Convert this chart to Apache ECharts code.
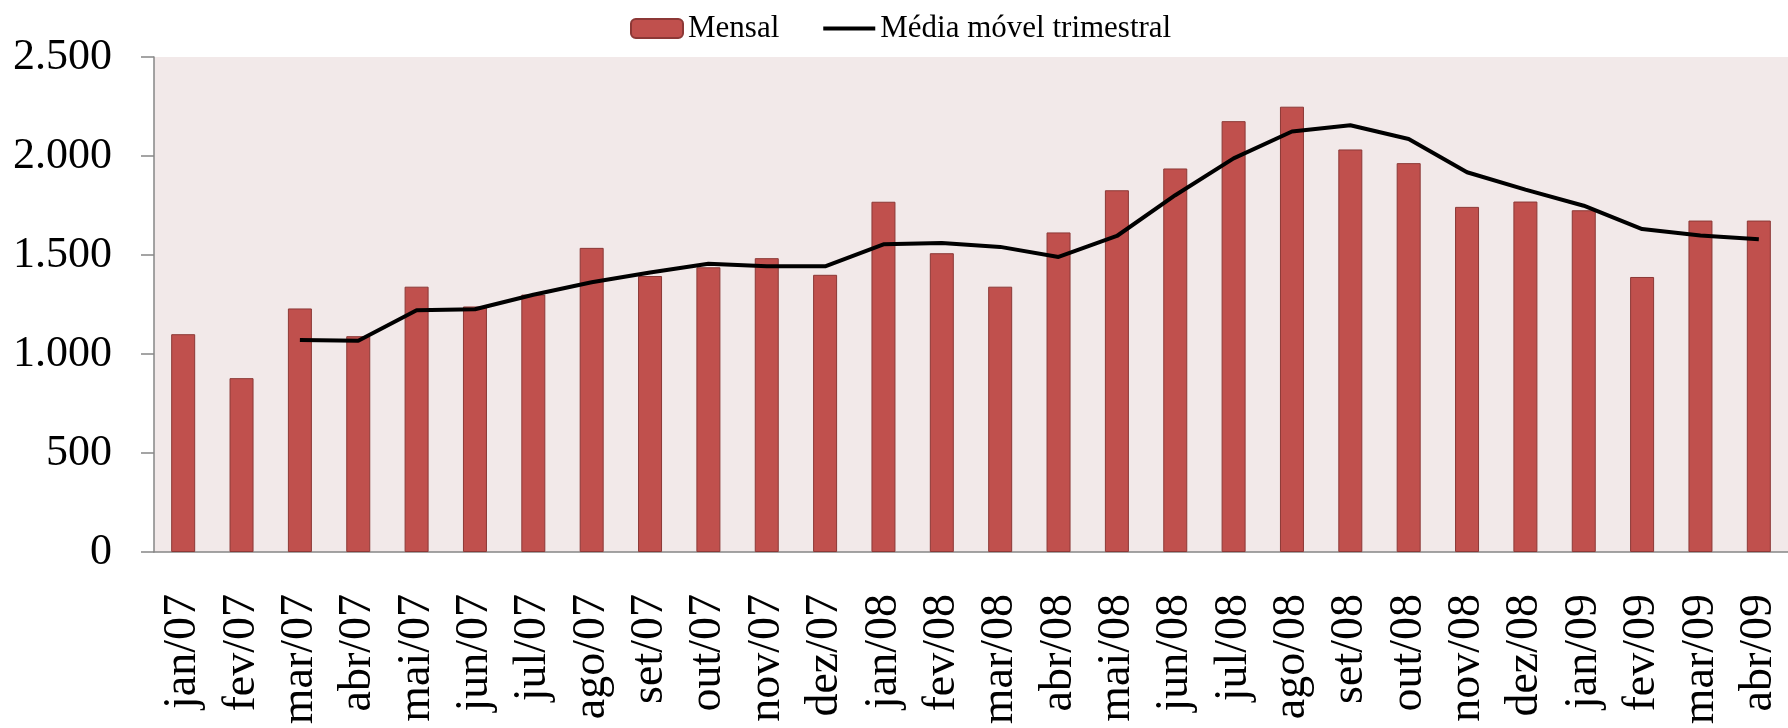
<!DOCTYPE html>
<html>
<head>
<meta charset="utf-8">
<script src="https://cdn.jsdelivr.net/npm/echarts@6/dist/echarts.min.js"></script>
<style>
  html, body { margin: 0; padding: 0; background: #fff; }
  #chart { width: 1788px; height: 728px; }
</style>
</head>
<body>
<div id="chart"></div>
<script>
// meses
const categories = ['jan/07', 'fev/07', 'mar/07', 'abr/07', 'mai/07', 'jun/07', 'jul/07', 'ago/07', 'set/07', 'out/07', 'nov/07', 'dez/07',
  'jan/08', 'fev/08', 'mar/08', 'abr/08', 'mai/08', 'jun/08', 'jul/08', 'ago/08', 'set/08', 'out/08', 'nov/08', 'dez/08',
  'jan/09', 'fev/09', 'mar/09', 'abr/09']
// barras - Mensal
const mensal = [1100, 878, 1230, 1090, 1340, 1240, 1300, 1536, 1394, 1438, 1484, 1400,
  1769, 1509, 1340, 1614, 1827, 1937, 2176, 2249, 2033, 1964, 1743, 1770,
  1726, 1389, 1674, 1674]
// linha - média móvel trimestral (começa em mar/07)
const mediaMovel = ['-', '-', 1071, 1067, 1221, 1226, 1299, 1362, 1412, 1456, 1443, 1443,
  1554, 1560, 1541, 1490, 1596, 1802, 1988, 2124, 2155, 2086, 1918, 1830,
  1749, 1631, 1598, 1580]
const yTicks = [0, 500, 1000, 1500, 2000, 2500]

const fontFamily = '"Liberation Serif", "DejaVu Serif", serif'

const chart = echarts.init(document.getElementById('chart'))

const option = {
  animation: false,
  textStyle: { fontFamily: fontFamily, color: '#000' },
  legend: {
    left: 625,
    top: 8,
    itemWidth: 52,
    itemHeight: 19,
    itemGap: 44,
    textStyle: { fontFamily: fontFamily, fontSize: 31, color: '#000' },
    data: [
      { name: 'Mensal' },
      // só a linha, sem o marcador redondo
      { name: 'Média móvel trimestral', icon: 'path://M0,0L52,0L52,4L0,4Z' }
    ]
  },
  grid: {
    left: 154,
    top: 57,
    width: 1646,
    height: 495,
    show: true,
    backgroundColor: '#F2E9E9',
    borderWidth: 0
  },
  xAxis: {
    type: 'category',
    data: categories,
    axisLine: { lineStyle: { color: '#868686', width: 1.5 } },
    axisTick: { length: 13, lineStyle: { color: '#868686', width: 1.5 } },
    axisLabel: {
      interval: 0,
      rotate: 90,
      margin: 42,
      fontFamily: fontFamily,
      fontSize: 46,
      color: '#000'
    }
  },
  yAxis: {
    type: 'value',
    min: yTicks[0],
    max: yTicks[yTicks.length - 1],
    interval: 500,
    axisLine: { show: true, lineStyle: { color: '#868686', width: 1.5 } },
    axisTick: { show: true, length: 13, lineStyle: { color: '#868686', width: 1.5 } },
    splitLine: { show: false },
    axisLabel: {
      margin: 42,
      fontFamily: fontFamily,
      fontSize: 44,
      color: '#000',
      formatter: v => String(v).replace(/\B(?=(\d{3})+(?!\d))/g, '.')
    }
  },
  series: [
    {
      name: 'Mensal',
      type: 'bar',
      data: mensal,
      barWidth: 24,
      itemStyle: { color: '#C0504D', borderColor: '#8C3836', borderWidth: 1 }
    },
    {
      name: 'Média móvel trimestral',
      type: 'line',
      data: mediaMovel,
      symbol: 'none',
      showSymbol: false,
      itemStyle: { color: '#000' },
      lineStyle: { color: '#000', width: 4 }
    }
  ]
}

chart.setOption(option)
</script>
</body>
</html>
